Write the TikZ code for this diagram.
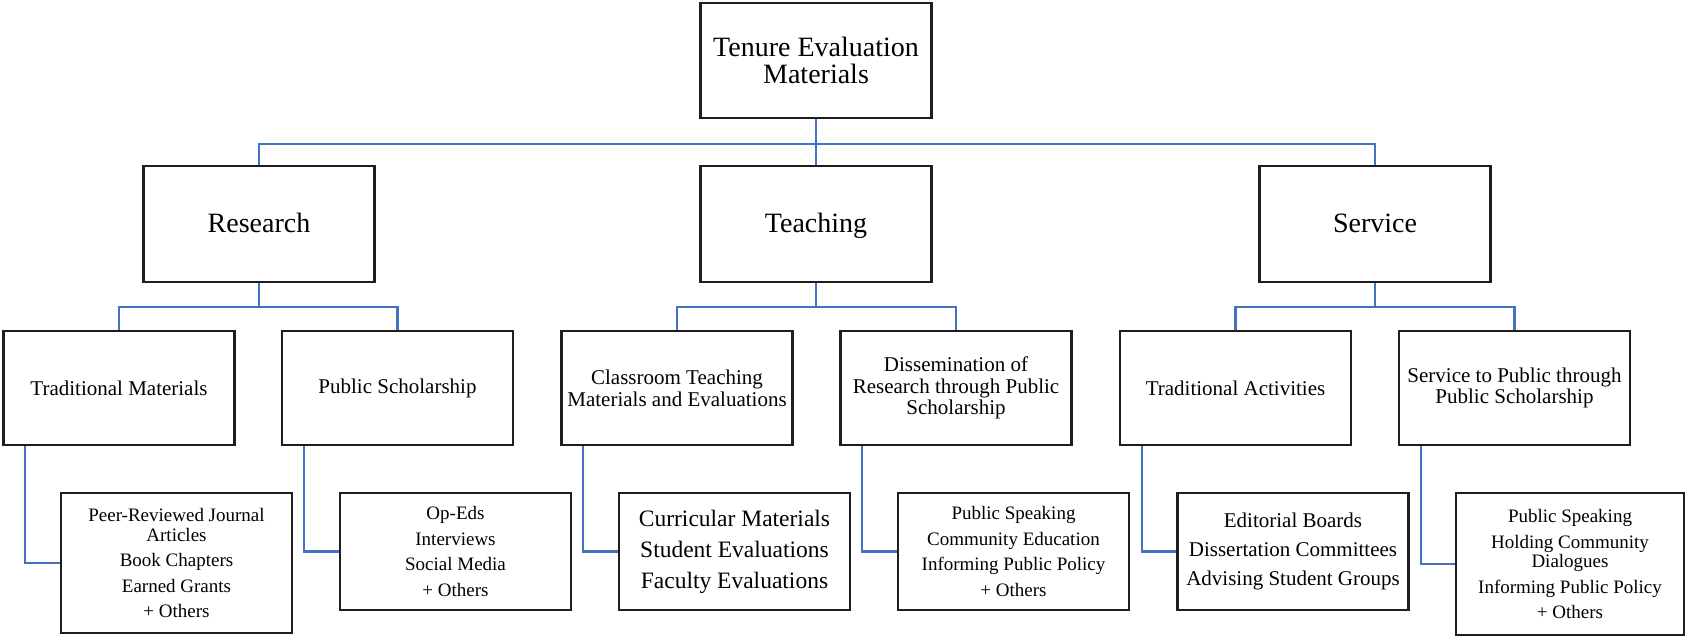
\documentclass[tikz,border=0pt]{standalone}
\usepackage{fontspec}
\setmainfont{Liberation Serif}
\definecolor{connblue}{HTML}{4472C4}
\definecolor{boxline}{HTML}{1E1E1E}
\tikzset{
  box/.style={draw=boxline, line width=2.4pt, inner sep=0pt, align=center, fill=white},
  lvlzero/.style={box, minimum width=231pt, minimum height=115pt, font=\fontsize{28}{27}\selectfont},
  lvlone/.style={box, minimum width=231pt, minimum height=116pt, text height=21pt, text depth=4pt, font=\fontsize{28}{27}\selectfont},
  lvltwo/.style={box, minimum width=231pt, minimum height=114pt, font=\fontsize{21}{21.7}\selectfont},
  lvlthree/.style={box, minimum width=231pt, minimum height=117pt, font=\fontsize{19}{19.5}\selectfont},
  link/.style={draw=connblue, line width=2.2pt, line join=miter}
}
\begin{document}
\begin{tikzpicture}[x=1pt, y=-1pt]
\useasboundingbox (0,0) rectangle (1685,636);
% level 0
\node[lvlzero] (top) at (816,60.5) {Tenure Evaluation\\Materials};
% level 1
\node[lvlone] (res) at (259,224) {Research};
\node[lvlone] (tea) at (816,224) {Teaching};
\node[lvlone] (ser) at (1375,224) {Service};
% level 2
\node[lvltwo] (tm) at (119,388) {Traditional Materials};
\node[lvltwo] (ps) at (397.5,388) {Public Scholarship};
\node[lvltwo] (cl) at (677,388) {Classroom Teaching\\Materials and Evaluations};
\node[lvltwo] (di) at (956,388) {Dissemination of\\Research through Public\\Scholarship};
\node[lvltwo] (ta) at (1235.5,388) {Traditional Activities};
\node[lvltwo] (sp) at (1514.5,388) {Service to Public through\\Public Scholarship};
% level 3
\node[lvlthree, minimum height=140pt] (peer) at (176.5,563)
  {Peer-Reviewed Journal\\Articles\\[6pt]Book Chapters\\[6pt]Earned Grants\\[6pt]+ Others};
\node[lvlthree] (oped) at (455.5,551.5)
  {Op-Eds\\[6pt]Interviews\\[6pt]Social Media\\[6pt]+ Others};
\node[lvlthree, font=\fontsize{23.5}{31}\selectfont] (curr) at (734.5,551.5)
  {Curricular Materials\\Student Evaluations\\Faculty Evaluations};
\node[lvlthree] (pst) at (1013.5,551.5)
  {Public Speaking\\[6pt]Community Education\\[6pt]Informing Public Policy\\[6pt]+ Others};
\node[lvlthree, font=\fontsize{21}{29}\selectfont] (edit) at (1293,551.5)
  {Editorial Boards\\Dissertation Committees\\Advising Student Groups};
\node[lvlthree, minimum width=228pt, minimum height=142pt] (pss) at (1570,564)
  {Public Speaking\\[6pt]Holding Community\\Dialogues\\[6pt]Informing Public Policy\\[6pt]+ Others};
% connectors level 0 -> 1
\draw[link] (top.south) -- ++(0,25) -| (res.north);
\draw[link] (top.south) -- ++(0,25) -| (tea.north);
\draw[link] (top.south) -- ++(0,25) -| (ser.north);
% level 1 -> 2
\draw[link] (res.south) -- ++(0,24) -| (tm.north);
\draw[link] (res.south) -- ++(0,24) -| (ps.north);
\draw[link] (tea.south) -- ++(0,24) -| (cl.north);
\draw[link] (tea.south) -- ++(0,24) -| (di.north);
\draw[link] (ser.south) -- ++(0,24) -| (ta.north);
\draw[link] (ser.south) -- ++(0,24) -| (sp.north);
% level 2 -> 3
\draw[link] ([xshift=23pt]tm.south west) |- (peer.west);
\draw[link] ([xshift=23pt]ps.south west) |- (oped.west);
\draw[link] ([xshift=23pt]cl.south west) |- (curr.west);
\draw[link] ([xshift=23pt]di.south west) |- (pst.west);
\draw[link] ([xshift=23pt]ta.south west) |- (edit.west);
\draw[link] ([xshift=23pt]sp.south west) |- (pss.west);
\end{tikzpicture}
\end{document}
